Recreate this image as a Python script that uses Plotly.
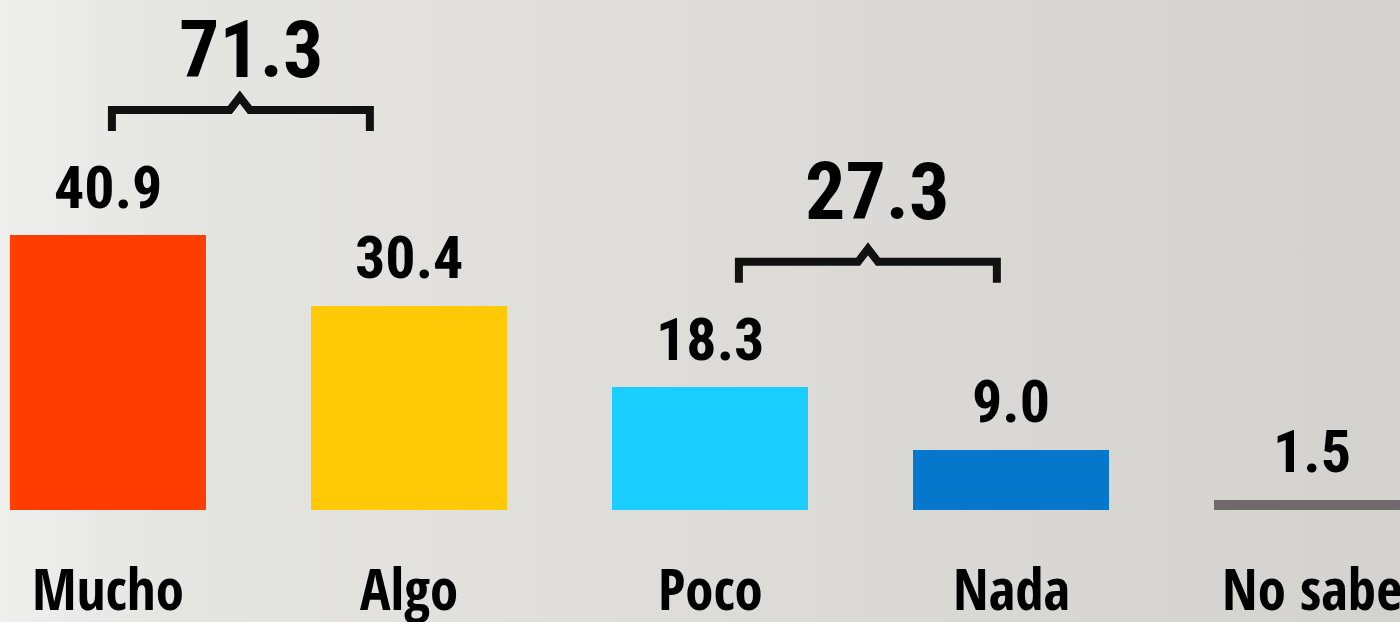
import plotly.graph_objects as go

# ---- data ----
categories = ["Mucho", "Algo", "Poco", "Nada", "No sabe"]
values = [40.9, 30.4, 18.3, 9.0, 1.5]
colors = ["#FF3D00", "#FFC905", "#1ACFFF", "#0578CC", "#6F6B6A"]
group_pairs = [(0, 1), (2, 3)]
group_totals = [71.3, 27.3]

# ---- layout constants (pixels mapped to axes) ----
W, H = 1400, 622
STEP_PX = 301.0        # distance between bar centers
FIRST_PX = 108.0       # center of first bar
BASE_PX = 510.0        # baseline y pixel
UNIT_PX = 6.72         # pixels per value unit

x_range = [-FIRST_PX / STEP_PX, (W - FIRST_PX) / STEP_PX]
y_range = [-(H - BASE_PX) / UNIT_PX, BASE_PX / UNIT_PX]

NUM_FONT = "Roboto Condensed, Liberation Sans Narrow, DejaVu Sans Condensed, sans-serif"
CAT_FONT = "Open Sans Condensed, Roboto Condensed, DejaVu Sans Condensed, sans-serif"

fig = go.Figure()

# background gradient (decorative) on the base subplot
fig.add_trace(go.Scatter(
    x=[x_range[0], x_range[1], x_range[1], x_range[0], x_range[0]],
    y=[y_range[0], y_range[0], y_range[1], y_range[1], y_range[0]],
    mode="none", fill="toself",
    fillgradient=dict(type="horizontal",
                      colorscale=[[0, "#eeeeec"], [0.12, "#e5e5e2"], [0.5, "#dddcd8"], [1, "#d3d2ce"]]),
    hoverinfo="skip", showlegend=False, xaxis="x", yaxis="y",
))

# bars on an overlaying subplot so they sit above the background
fig.add_trace(go.Bar(
    x=list(range(len(categories))),
    y=values,
    width=196 / STEP_PX,
    marker=dict(color=colors, line=dict(width=0)),
    hoverinfo="skip",
    showlegend=False,
    xaxis="x2", yaxis="y2",
))

annotations = []
# value labels
for i, v in enumerate(values):
    annotations.append(dict(
        x=i, y=v, xref="x2", yref="y2", text=f"<b>{v:.1f}</b>",
        showarrow=False, yanchor="middle", yshift=48,
        font=dict(family=NUM_FONT, size=60, color="#000000"),
    ))
# category labels
for i, c in enumerate(categories):
    annotations.append(dict(
        x=i, y=-80 / UNIT_PX, xref="x2", yref="y2", text=f"<b>{c}</b>",
        showarrow=False, yanchor="middle", yshift=2,
        font=dict(family=CAT_FONT, size=57, color="#000000"),
    ))

# brackets: geometry offsets (in category units / pixels) for each group
bracket_geom = [
    dict(left=0.013, right=-0.130, peak=-0.062, text_dx=-0.022, rise_px=47),
    dict(left=0.096, right=-0.047, peak=0.025, text_dx=0.055, rise_px=57),
]
shapes = []
for (a, b), total, g in zip(group_pairs, group_totals, bracket_geom):
    top_val = max(values[a], values[b])
    y_bot = top_val + 15.5
    y_h = y_bot + 21 / UNIT_PX
    y_peak = y_h + 13 / UNIT_PX
    xl = a + g["left"]
    xr = b + g["right"]
    xm = (a + b) / 2 + g["peak"]
    dx = 10 / STEP_PX
    path = (f"M {xl},{y_bot} L {xl},{y_h} L {xm - dx},{y_h} L {xm},{y_peak} "
            f"L {xm + dx},{y_h} L {xr},{y_h} L {xr},{y_bot}")
    shapes.append(dict(type="path", path=path, xref="x2", yref="y2",
                       line=dict(color="#111111", width=8)))
    annotations.append(dict(
        x=(a + b) / 2 + g["text_dx"], y=y_peak, xref="x2", yref="y2",
        text=f"<b>{total:.1f}</b>", showarrow=False, yanchor="middle",
        yshift=g["rise_px"],
        font=dict(family=NUM_FONT, size=80, color="#000000"),
    ))

fig.update_layout(
    width=W, height=H,
    margin=dict(l=0, r=0, t=0, b=0),
    paper_bgcolor="#dddcd9",
    plot_bgcolor="rgba(0,0,0,0)",
    xaxis=dict(range=x_range, visible=False, fixedrange=True),
    yaxis=dict(range=y_range, visible=False, fixedrange=True),
    xaxis2=dict(range=x_range, visible=False, fixedrange=True, overlaying="x"),
    yaxis2=dict(range=y_range, visible=False, fixedrange=True, overlaying="y"),
    annotations=annotations,
    shapes=shapes,
    bargap=0,
)

fig.write_html("out.html", config=dict(displayModeBar=False),
               post_script="document.body.style.margin='0';")
